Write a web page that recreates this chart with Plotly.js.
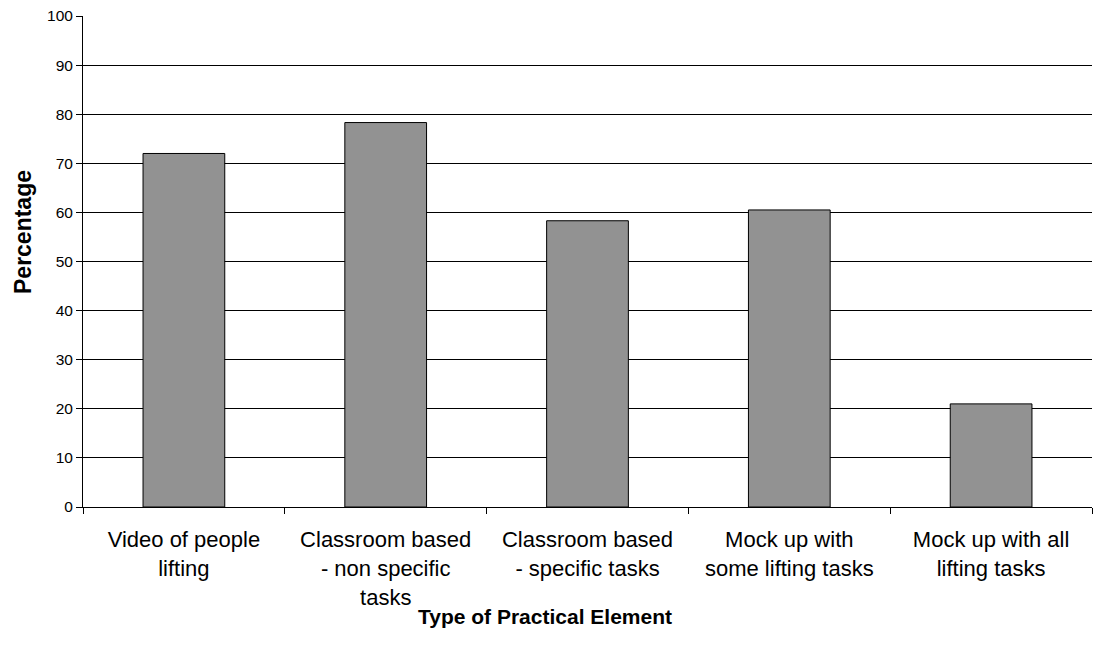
<!DOCTYPE html>
<html><head><meta charset="utf-8">
<script src="https://cdn.plot.ly/plotly-3.0.1.min.js"></script>
<style>html,body{margin:0;padding:0;background:#fff}</style>
</head><body>
<div id="chart" style="width:1093px;height:655px"></div>
<script>
const categories = ["Video of people<br>lifting", "Classroom based<br>- non specific<br>tasks", "Classroom based<br>- specific tasks", "Mock up with<br>some lifting tasks", "Mock up with all<br>lifting tasks"];
const values = [72.0, 78.3, 58.3, 60.5, 21.0];
const yTicks = [0,10,20,30,40,50,60,70,80,90,100];
const xTitle = 'Type of Practical Element';
const yTitle = 'Percentage';

Plotly.newPlot('chart', [{
  type: 'bar',
  x: categories,
  y: values,
  marker: {color: '#929292', line: {color: '#000', width: 1}},
  hoverinfo: 'none'
}], {
  width: 1093, height: 655,
  margin: {l: 83, r: 1, t: 16, b: 148},
  paper_bgcolor: '#fff', plot_bgcolor: '#fff',
  bargap: 0.595,
  font: {family: 'Liberation Sans, Arial, sans-serif', color: '#000'},
  xaxis: {
    tickson: 'boundaries', ticks: 'outside', ticklen: 6, tickcolor: '#000',
    showline: true, linecolor: '#000', linewidth: 1,
    tickfont: {size: 22}, showgrid: false, automargin: false,
    ticklabelstandoff: 13
  },
  yaxis: {
    range: [0, 100], tickvals: yTicks, ticktext: yTicks.map(String),
    ticks: 'outside', ticklen: 6, tickcolor: '#000',
    showline: true, linecolor: '#000', linewidth: 1,
    showgrid: true, gridcolor: '#000', gridwidth: 1, zeroline: false,
    tickfont: {size: 15.5}, automargin: false
  },
  annotations: [
    {text: '<b>' + xTitle + '</b>', xref: 'paper', yref: 'paper', x: 0.458, y: -0.222,
     xanchor: 'center', yanchor: 'middle', showarrow: false, font: {size: 21}},
    {text: '<b>' + yTitle + '</b>', xref: 'paper', yref: 'paper', x: -0.0595, y: 0.56,
     xanchor: 'center', yanchor: 'middle', textangle: -90, showarrow: false, font: {size: 23}}
  ],
  showlegend: false
}, {displayModeBar: false, staticPlot: true});
</script>
</body></html>
